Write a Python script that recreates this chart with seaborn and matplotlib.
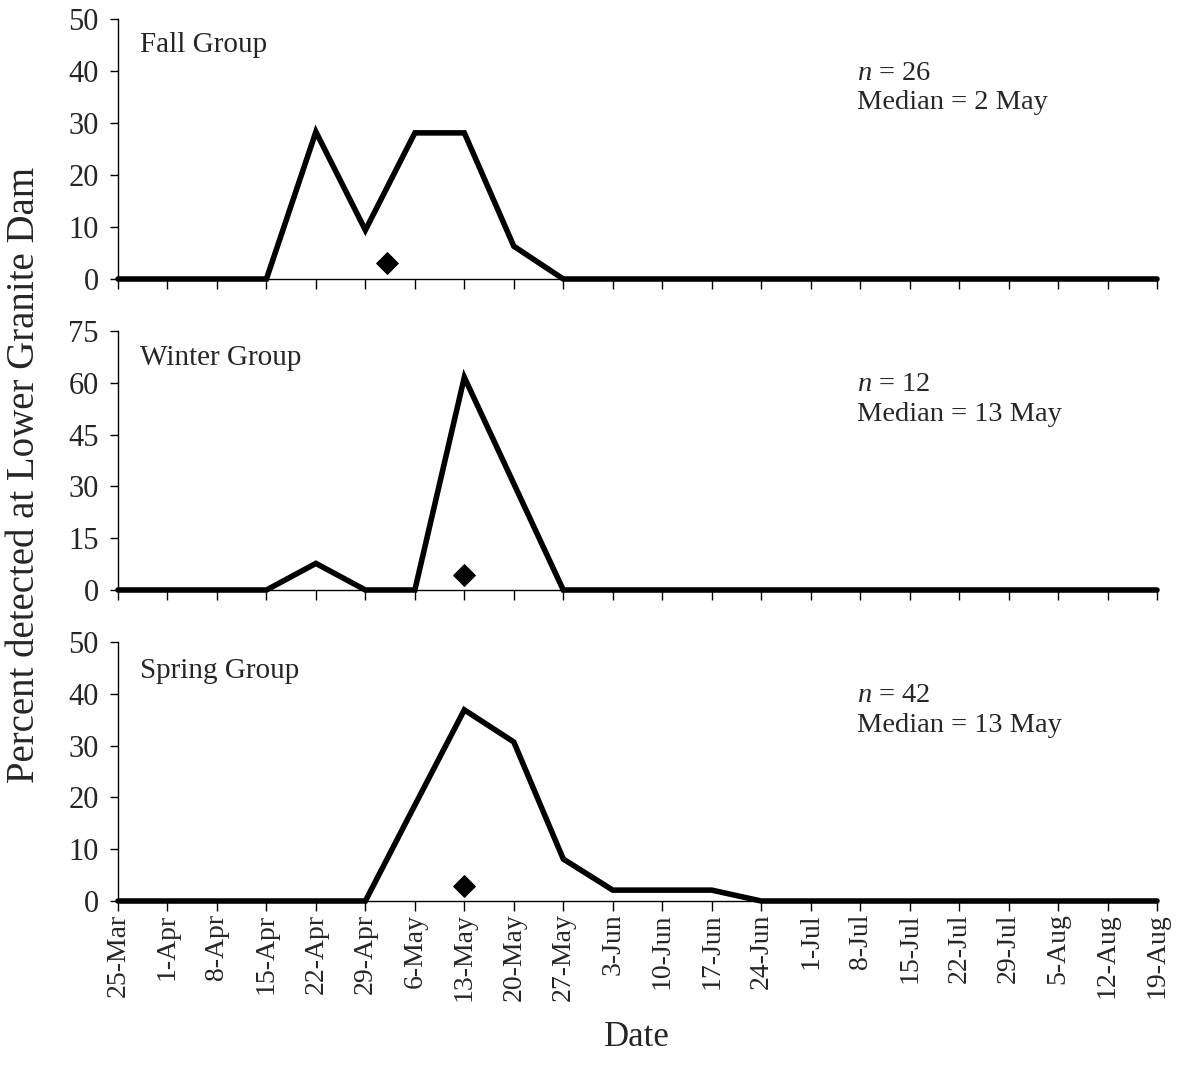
import matplotlib
matplotlib.use("Agg")
import matplotlib.pyplot as plt
import seaborn as sns
import pandas as pd
import numpy as np

dates = ["25-Mar", "1-Apr", "8-Apr", "15-Apr", "22-Apr", "29-Apr", "6-May", "13-May",
         "20-May", "27-May", "3-Jun", "10-Jun", "17-Jun", "24-Jun", "1-Jul", "8-Jul",
         "15-Jul", "22-Jul", "29-Jul", "5-Aug", "12-Aug", "19-Aug"]

fall = [0, 0, 0, 0, 28.3, 9.4, 28.1, 28.1, 6.3, 0, 0, 0, 0, 0, 0, 0, 0, 0, 0, 0, 0, 0]
winter = [0, 0, 0, 0, 7.7, 0, 0, 61.6, 30.8, 0, 0, 0, 0, 0, 0, 0, 0, 0, 0, 0, 0, 0]
spring = [0, 0, 0, 0, 0, 0, 18.5, 36.9, 30.7, 8.1, 2.1, 2.1, 2.1, 0, 0, 0, 0, 0, 0, 0, 0, 0]

groups = ["Fall Group", "Winter Group", "Spring Group"]
n_values = [26, 12, 42]
median_labels = ["2 May", "13 May", "13 May"]
median_week = [5 + 3 / 7, 7.0, 7.0]   # position of median in weeks after 25-Mar
median_marker_y = [3.1, 4.3, 2.9]
ymax = [50, 75, 50]
ystep = [10, 15, 10]

sns.set_style("ticks")
plt.rcParams["font.family"] = ["Liberation Serif", "DejaVu Serif"]
plt.rcParams["mathtext.fontset"] = "custom"
plt.rcParams["mathtext.it"] = "Liberation Serif:italic"
plt.rcParams["mathtext.rm"] = "Liberation Serif"
plt.rcParams["axes.linewidth"] = 1.0

fig = plt.figure(figsize=(11.77, 10.72), dpi=100)
left, right = 118 / 1177, 1157 / 1177
panels = [(19, 279), (331, 590), (642, 901)]
series = [fall, winter, spring]

for i, (top, bot) in enumerate(panels):
    ax = fig.add_axes([left, 1 - bot / 1072, right - left, (bot - top) / 1072])
    df = pd.DataFrame({"week": np.arange(len(dates)), "pct": series[i]})
    sns.lineplot(data=df, x="week", y="pct", ax=ax, color="black", linewidth=4.0,
                 clip_on=False, solid_joinstyle="miter")
    mdf = pd.DataFrame({"week": [median_week[i]], "pct": [median_marker_y[i]]})
    sns.scatterplot(data=mdf, x="week", y="pct", ax=ax, marker="D", s=120,
                    color="black", edgecolor="black", zorder=5)
    ax.set_xlim(0, len(dates) - 1)
    ax.set_ylim(0, ymax[i])
    ax.set_yticks(np.arange(0, ymax[i] + 1, ystep[i]))
    ax.set_xticks(np.arange(len(dates)))
    if i == 2:
        ax.set_xticklabels(dates, rotation=90)
    else:
        ax.set_xticklabels([])
    ax.tick_params(axis="y", labelsize=22, length=6, width=1, color="black", pad=8)
    ax.tick_params(axis="x", labelsize=20, length=7, width=1, color="black", pad=2)
    ax.set_xlabel("")
    ax.set_ylabel("")
    sns.despine(ax=ax)
    ax.spines["left"].set_color("black")
    ax.spines["bottom"].set_color("black")
    ax.text(0.021, [0.9, 0.896, 0.888][i], groups[i], transform=ax.transAxes,
            fontsize=21, va="center", ha="left")
    ax.text(0.711, 0.735, f"$\\it{{n}}$ = {n_values[i]}\nMedian = {median_labels[i]}",
            transform=ax.transAxes, fontsize=20.5, va="center", ha="left",
            linespacing=1.25)

fig.text(25 / 1177, 1 - 475 / 1072, "Percent detected at Lower Granite Dam",
         rotation=90, fontsize=28, va="center", ha="center")
fig.text(637 / 1177, 1 - 1038 / 1072, "Date", fontsize=25, va="center", ha="center")

fig.savefig("out.png", dpi=100)
